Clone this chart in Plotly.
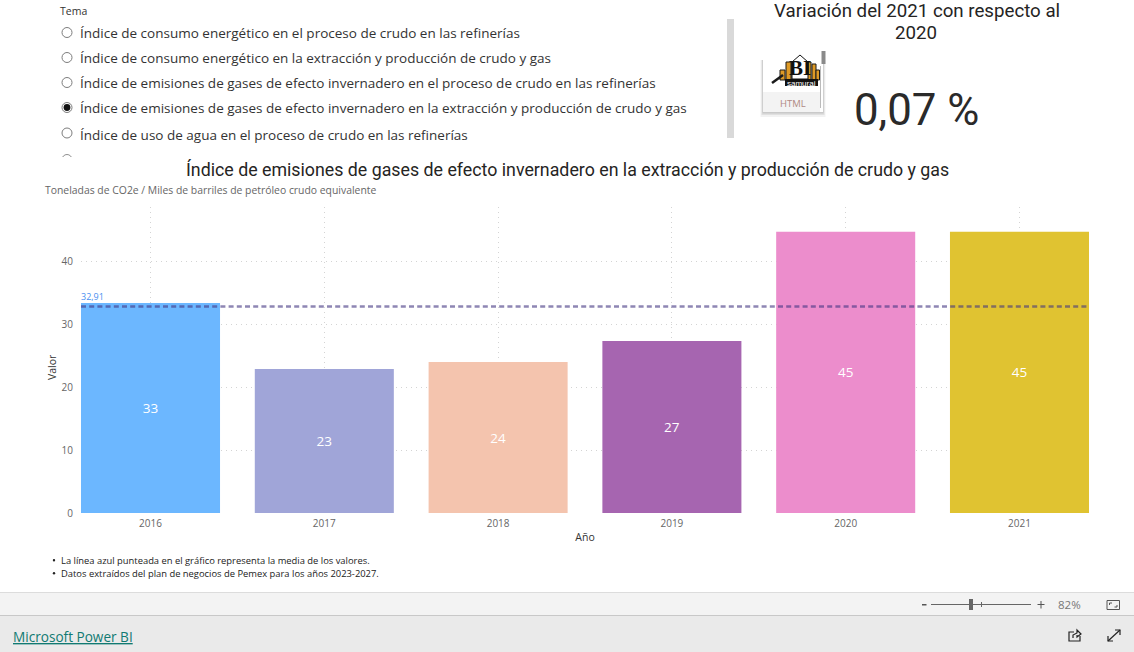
import plotly.graph_objects as go

# ---- data ----
anios = ["2016", "2017", "2018", "2019", "2020", "2021"]
valores = [33.45, 22.95, 24.05, 27.4, 44.8, 44.8]
etiquetas = ["33", "23", "24", "27", "45", "45"]
colores = ["#6CB7FF", "#A0A5D8", "#F4C4AE", "#A665B0", "#EC8DCC", "#E0C331"]
media = 32.91
media_txt = "32,91"
opciones = [
    "Índice de consumo energético en el proceso de crudo en las refinerías",
    "Índice de consumo energético en la extracción y producción de crudo y gas",
    "Índice de emisiones de gases de efecto invernadero en el proceso de crudo en las refinerías",
    "Índice de emisiones de gases de efecto invernadero en la extracción y producción de crudo y gas",
    "Índice de uso de agua en el proceso de crudo en las refinerías",
]
seleccion = 3
opcion_y = [33, 58, 83, 108, 134.5]
notas = [
    "La línea azul punteada en el gráfico representa la media de los valores.",
    "Datos extraídos del plan de negocios de Pemex para los años 2023-2027.",
]
titulo = "Índice de emisiones de gases de efecto invernadero en la extracción y producción de crudo y gas"
subtitulo = "Toneladas de CO2e / Miles de barriles de petróleo crudo equivalente"

# ---- page geometry ----
W, H = 1134, 652
L, R, T, B = 81, 1089, 207, 513
DIN = "Roboto, sans-serif"
SEGOE = "'Open Sans', sans-serif"


def px(x):
    return (x - L) / (R - L)


def py(y):
    return (B - y) / (B - T)


shapes, annots = [], []


def rect(x0, y0, x1, y1, fill, line=None, layer="above"):
    shapes.append(dict(type="rect", xref="paper", yref="paper", x0=px(x0), x1=px(x1), y0=py(y0), y1=py(y1),
                       fillcolor=fill, line=dict(width=0 if line is None else 1, color=line or fill), layer=layer))


def circle(cx, cy, r, fill="rgba(0,0,0,0)", line=None, w=1):
    shapes.append(dict(type="circle", xref="paper", yref="paper", x0=px(cx - r), x1=px(cx + r), y0=py(cy - r),
                       y1=py(cy + r), fillcolor=fill, line=dict(width=w if line else 0, color=line or fill)))


def poly(points, fill=None, line=None, w=1, close=False):
    d = "M " + " L ".join(f"{px(x):.5f} {py(y):.5f}" for x, y in points) + (" Z" if close else "")
    shapes.append(dict(type="path", xref="paper", yref="paper", path=d, fillcolor=fill or "rgba(0,0,0,0)",
                       line=dict(width=w if line else 0, color=line or "rgba(0,0,0,0)")))


def text(x, y, s, size, color="#252423", font=SEGOE, anchor="left", **kw):
    annots.append(dict(xref="paper", yref="paper", x=px(x), y=py(y), text=s, showarrow=False, xanchor=anchor,
                       yanchor="middle", font=dict(size=size, color=color, family=font), **kw))


# ---- slicer ----
text(58, 10.5, "Tema", 10.5, "#333333")
circle(67, 159.5, 5, "#ffffff", "#8f8f8f")
rect(40, 157, 700, 166, "#ffffff")
for i, (s, y) in enumerate(zip(opciones, opcion_y)):
    circle(67, min(y - 0.5, 133), 5, "#ffffff", "#7d7d7d")
    if i == seleccion:
        circle(67, y - 0.5, 3.4, "#111111")
    text(78, y, s, 13.5, "#333333")

# ---- KPI block ----
rect(727, 19, 734, 138, "#d9d9d9")
text(917, 11, "Variación del 2021 con respecto al", 18.7, "#252423", DIN, "center")
text(916, 33, "2020", 18.7, "#252423", DIN, "center")
text(916.5, 110, "0,07 %", 43.8, "#2a2a2a", DIN, "center")

# logo card
for d, a in [(5, .05), (3, .07), (1.5, .1)]:
    rect(763 - d / 2, 60, 823 + d / 2, 112 + d, f"rgba(0,0,0,{a})")
rect(763, 51, 823, 112, "#ffffff")
rect(763, 92, 820, 112, "#f3f3f3")
rect(820, 66, 821, 108, "#bbbbbb")
rect(821.5, 51, 825.5, 64, "#8a8a8a")
for x0, x1, top in [(780, 785, 70), (786, 791, 62), (792, 796, 62), (807, 811, 62), (812, 816, 64), (816, 819.5, 70)]:
    rect(x0, top, x1, 80, "#DE9A26", "#1a1a1a")
poly([(772, 83), (783, 75)], line="#1a1a1a", w=2.5)
poly([(792, 79), (792, 62), (800, 55), (808, 62), (808, 79)], "#ffffff", "#111111", 1, True)
text(800, 67.5, "<b>BI</b>", 21, "#111111", "'Liberation Serif', serif", "center")
rect(785, 79, 818, 86, "#111111")
text(801.5, 83, "samurai", 8, "#ffffff", "'Liberation Sans', sans-serif", "center")
text(792.5, 103, "HTML", 9.5, "#b08a84", SEGOE, "center")

# ---- chart headings ----
text(567.5, 169.5, titulo, 17.8, "#252423", DIN, "center")
text(43, 190, subtitulo, 10.4, "#666666")
annots.append(dict(xref="paper", yref="y", x=0, y=media, yshift=10, text=media_txt, showarrow=False, xanchor="left",
                   xshift=-2, yanchor="middle", font=dict(size=9, color="#4a90f0", family=SEGOE)))
text(52, 367, "Valor", 10.5, "#333333", SEGOE, "center", textangle=-90)

# ---- notes ----
for y, s in zip([560, 573], notas):
    circle(54, y + 0.3, 1.2, "#222222")
    text(58.5, y, s, 9.4, "#222222")

# ---- bottom bars ----
rect(0, 592, W, 616, "#f3f3f3")
rect(0, 592, W, 593, "#dcdcdc")
rect(0, 615, W, 652, "#eaeaea")
rect(0, 615, W, 616, "#c8c8c8")
text(11, 636, "<u>Microsoft Power BI</u>", 13.6, "#117A72")

# zoom controls
rect(922, 604, 926.5, 605.5, "#555555")
rect(931, 604, 1031, 605, "#666666")
rect(969, 599, 973, 610, "#666666")
rect(981, 602, 982, 607, "#666666")
rect(1037.5, 604, 1044.5, 605, "#555555")
rect(1040.5, 601, 1041.5, 608.5, "#555555")
text(1056, 604.5, "82%", 11.5, "#777777")
shapes.append(dict(type="rect", xref="paper", yref="paper", x0=px(1107), x1=px(1119.5), y0=py(600.5), y1=py(609.5),
                   fillcolor="rgba(0,0,0,0)", line=dict(width=1, color="#555555")))
poly([(1109.5, 605), (1109.5, 603), (1112, 603)], line="#555555")
poly([(1117, 605), (1117, 607), (1114.5, 607)], line="#555555")

# share & expand icons
poly([(1074, 632), (1069, 632), (1069, 641), (1080, 641), (1080, 636)], line="#222222", w=1.2)
poly([(1073, 638), (1073, 635), (1077, 633), (1077, 630), (1081, 634), (1077, 637), (1077, 635)], line="#222222", w=1.2)
poly([(1108, 641), (1120, 630)], line="#222222", w=1.2)
poly([(1115, 630), (1120, 630), (1120, 635)], line="#222222", w=1.2)
poly([(1108, 636), (1108, 641), (1113, 641)], line="#222222", w=1.2)

# ---- mean line ----
shapes.append(dict(type="line", xref="x domain", yref="y", x0=0, x1=1, y0=media, y1=media, layer="above",
                   line=dict(color="rgba(66,54,130,0.6)", width=2.5, dash="5px,3.2px")))

fig = go.Figure(go.Bar(
    x=anios, y=valores, text=etiquetas, marker=dict(color=colores, line=dict(width=0)),
    textposition="inside", insidetextanchor="middle", textangle=0,
    textfont=dict(size=13.5, color="#ffffff", family=SEGOE), hoverinfo="x+y", width=0.8,
))
fig.update_layout(
    width=W, height=H, margin=dict(l=L, r=W - R, t=T, b=H - B, pad=0), autosize=False,
    paper_bgcolor="#ffffff", plot_bgcolor="#ffffff", showlegend=False,
    shapes=shapes, annotations=annots,
)
fig.update_xaxes(type="category", range=[-0.4, 5.4], showgrid=True, griddash="1px,4px", gridcolor="#d4d4d4", gridwidth=1,
                 showline=False, zeroline=False, ticks="outside", ticklen=1, tickcolor="rgba(0,0,0,0)",
                 tickfont=dict(size=10, color="#666666", family=SEGOE),
                 title=dict(text="Año", font=dict(size=10.5, color="#333333", family=SEGOE), standoff=4))
fig.update_yaxes(range=[0, 48.76], tickvals=[0, 10, 20, 30, 40], showgrid=True, griddash="1px,4px", gridcolor="#d4d4d4",
                 gridwidth=1, showline=False, zeroline=False, ticks="outside", ticklen=5, tickcolor="rgba(0,0,0,0)",
                 tickfont=dict(size=10, color="#666666", family=SEGOE))
fig.write_html("out.html", post_script="document.body.style.margin='0';document.body.style.overflow='hidden';",
               config=dict(displayModeBar=False))
